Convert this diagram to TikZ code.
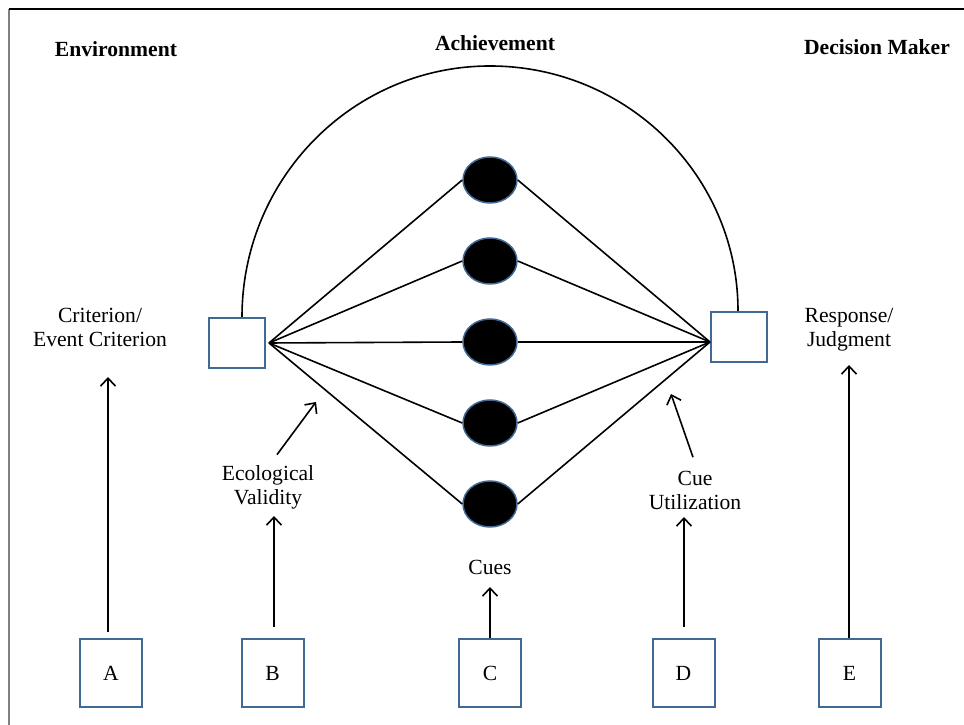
\documentclass[tikz,border=0pt]{standalone}
\usepackage{fontspec}
\setmainfont{Liberation Serif}
\usepackage{tikz}
\usetikzlibrary{arrows.meta,shapes.geometric}
\definecolor{boxblue}{RGB}{65,105,150}
\newcommand{\diagfont}{\fontsize{21.6}{24}\selectfont}
\tikzset{
  head/.style={font=\diagfont\bfseries},
  lbl/.style={align=center},
  box/.style={draw=boxblue,line width=2,fill=white,minimum width=56,minimum height=50},
  letterbox/.style={draw=boxblue,line width=2,fill=white,minimum width=62,minimum height=68},
  cue/.style={ellipse,draw=boxblue,line width=1.5,fill=black,minimum width=54,minimum height=46,inner sep=0},
  link/.style={line width=1.6},
  arr/.style={line width=1.6,-{Straight Barb[length=8,width=15,line width=1.6]}}
}
\begin{document}
\begin{tikzpicture}[x=1pt,y=1pt,font=\diagfont]
    \useasboundingbox (0,0) rectangle (964,725);
    % frame, cut at the right and bottom
    \draw[gray,line width=2] (9,0) -- (9,716);
    \draw[line width=1.4] (9,716) -- (964,716);

    \node[head] (env) at (116,676) {Environment};
    \node[head] (ach) at (495,682) {Achievement};
    \node[head] (dm) at (877,678) {Decision Maker};

    \node[lbl] (crittxt) at (100,398) {Criterion/\\Event Criterion};
    \node[lbl] (resptxt) at (849,395) {Response/\\Judgment};

    \node[box] (crit) at (237,382) {};
    \node[box] (resp) at (739,388) {};
    \foreach \i/\y in {1/545,2/464,3/383,4/302,5/221}
      \node[cue] (c\i) at (490,\y) {};

    % achievement arc
    \draw[link] ([xshift=5]crit.north) arc[start angle=180,end angle=90,x radius=248,y radius=251]
      arc[start angle=90,end angle=0,x radius=248,y radius=245];

    \foreach \i in {1,...,5} {
      \draw[link] ([xshift=3]crit.east) -- (c\i.west);
      \draw[link] (c\i.east) -- ([yshift=-5]resp.west);
    }

    \node[letterbox] (a) at (111,52) {A};
    \node[letterbox] (b) at (272.5,52) {B};
    \node[letterbox] (c) at (490,52) {C};
    \node[letterbox] (d) at (683.5,52) {D};
    \node[letterbox] (e) at (849.5,52) {E};

    \node[lbl] (ecol) at (268,238) {Ecological\\Validity};
    \node[lbl] (cues) at (490,158) {Cues};
    \node[lbl] (util) at (695,235) {Cue\\Utilization};

    \coordinate (ecoltip) at (316,323);
    \coordinate (utiltip) at (671,331);

    \draw[arr] ([xshift=-3,yshift=6]a.north) -- ++(0,255);
    \draw[arr] ([xshift=1.5,yshift=11]b.north) -- ++(0,111);
    \draw[arr] (c.north) -- ++(0,51);
    \draw[arr] ([xshift=0.5,yshift=11]d.north) -- ++(0,110);
    \draw[arr] ([xshift=-0.5]e.north) -- ++(0,273);
    \draw[arr] ([shift={(9,7)}]ecol.north) -- (ecoltip);
    \draw[arr] ([shift={(-2,10)}]util.north) -- (utiltip);
  \end{tikzpicture}
\end{document}
